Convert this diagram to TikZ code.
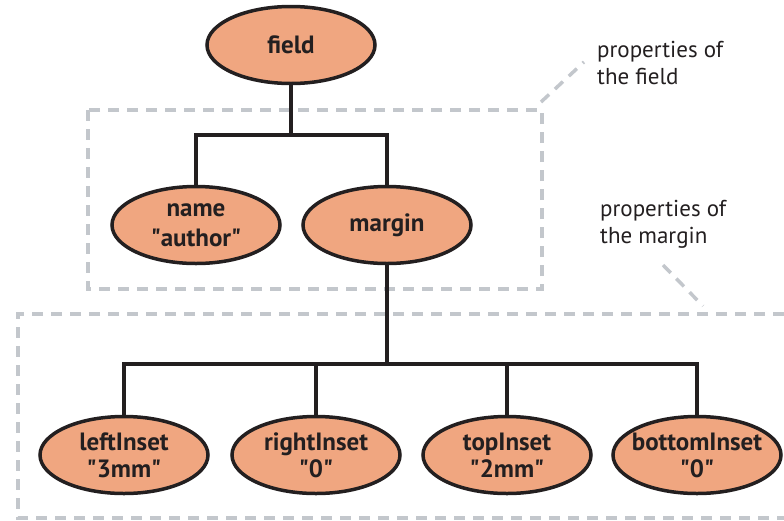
\documentclass[tikz,border=0pt]{standalone}
\usepackage{fontspec}
\setmainfont{PT Sans}
\usetikzlibrary{shapes.geometric}
\definecolor{nodefill}{RGB}{240,166,128}
\definecolor{outl}{RGB}{35,31,32}
\definecolor{dashgray}{RGB}{195,199,204}
\newcommand{\qq}{\XeTeXglyph\XeTeXcharglyph"22\relax}
\tikzset{
  x=1pt,y=-1pt,
  elli/.style={ellipse,draw=outl,line width=3.5pt,fill=nodefill,minimum width=168pt,minimum height=77pt,inner sep=0pt},
  lbl/.style={font=\fontsize{25}{27}\selectfont\bfseries,text=outl,align=center,inner sep=0pt},
  tree/.style={draw=outl,line width=3.5pt},
  dbox/.style={draw=dashgray,line width=3.5pt,dash pattern=on 11pt off 8pt},
  note/.style={font=\fontsize{23}{27}\selectfont,text=outl,align=left,inner sep=0pt,anchor=west}
}
\begin{document}
\begin{tikzpicture}
\useasboundingbox (0,0) rectangle (784,520);
% dashed regions
\draw[dbox] (88,110) rectangle (542,289);
\draw[dbox] (784,314) -- (18,314) -- (18,518) -- (784,518);
\coordinate (c1a) at (541,102);
\coordinate (c1b) at (584,62);
\draw[dbox] (c1a) -- (c1b);
\coordinate (c2a) at (663,265);
\coordinate (c2b) at (703,306);
\draw[dbox] (c2a) -- (c2b);
\node[note] (n1) at (597,63) {properties of\\the field};
\node[note] (n2) at (600,224) {properties of\\the margin};
% nodes
\node[elli,label={[lbl,font=\fontsize{25}{30}\selectfont\bfseries]center:name\\\qq author\qq}] (name) at (196,225) {};
\node[elli,label={[lbl]center:field}] (field) at (291,45) {};
\node[elli,label={[lbl]center:margin}] (margin) at (387,225) {};
\node[elli,label={[lbl]center:leftInset\\\qq 3mm\qq}] (left) at (124,455) {};
\node[elli,label={[lbl]center:rightInset\\\qq 0\qq}] (right) at (316,455) {};
\node[elli,label={[lbl]center:topInset\\\qq 2mm\qq}] (top) at (507,455) {};
\node[elli,label={[lbl]center:bottomInset\\\qq 0\qq}] (bottom) at (697,455) {};
% connectors
\coordinate (b1) at (291,135);
\coordinate (b2) at (387,364);
\draw[tree] (field.south) -- (b1);
\draw[tree] (name.north) |- (b1) -| (margin.north);
\draw[tree] (margin.south) -- (b2);
\draw[tree] (left.north) |- (b2) -| (bottom.north);
\draw[tree] (right.north) -- (right.north |- b2);
\draw[tree] (top.north) -- (top.north |- b2);
\end{tikzpicture}
\end{document}
